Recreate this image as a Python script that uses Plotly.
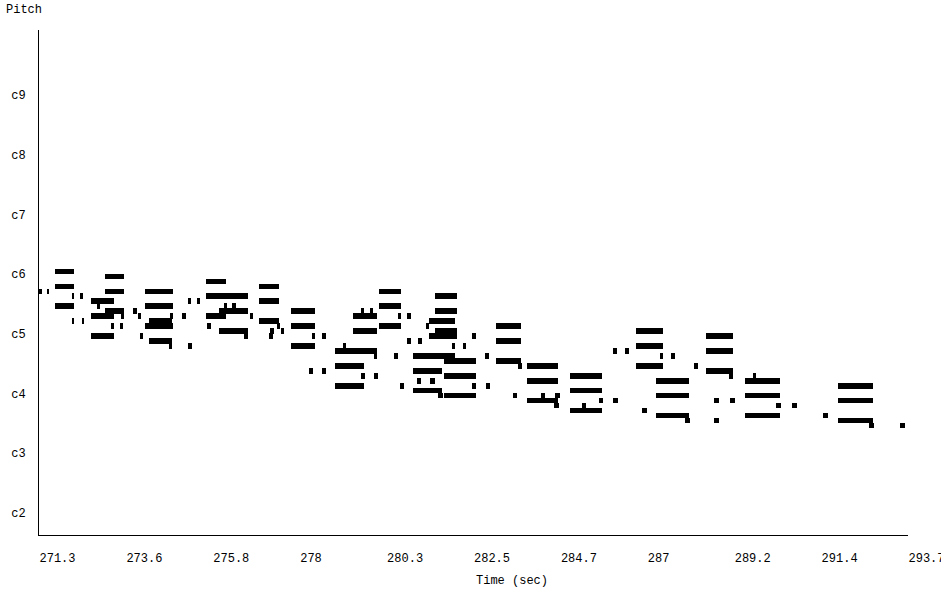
import plotly.graph_objects as go

# Note data (time in seconds, MIDI-style pitch, c4 = 60)
note_start = [
    271.71, 271.71, 271.71, 271.31, 271.50, 272.15, 272.36, 272.15, 272.40,
    273.00, 273.00, 272.64, 272.79, 273.00, 272.64, 273.41, 273.16, 273.39, 272.64, 273.73, 273.85, 273.90,
    274.03, 274.03, 274.14, 274.03, 274.14, 274.65, 275.14, 274.68, 274.99, 275.14, 275.37,
    275.60, 275.60, 276.07, 276.27, 275.94, 275.60, 276.74, 275.63, 275.94, 276.58,
    276.97, 276.97, 276.97, 277.25, 277.43, 277.54, 277.23,
    277.80, 277.80, 277.80, 278.34, 278.59, 278.26, 278.59,
    279.13, 278.93, 279.93, 278.93, 279.59, 279.93, 278.93,
    279.39, 279.59, 279.83, 279.39,
    280.06, 280.06, 280.06, 280.55, 280.79, 281.28,
    281.51, 281.51, 281.35, 281.51, 281.35, 282.46, 280.79, 281.07, 281.95, 282.22,
    280.45, 280.94, 281.74, 282.80, 280.94, 281.74, 281.04, 281.38, 280.61, 282.46, 282.82, 280.94, 281.59, 281.74,
    283.08, 283.08, 283.08, 283.65, 283.52,
    283.88, 283.88, 283.88, 284.24, 284.60, 284.57,
    284.99, 284.99, 284.99, 285.30, 285.74, 286.10, 286.10, 286.41, 286.84,
    286.69, 286.69, 286.69, 287.31, 287.59, 288.18,
    287.20, 287.20, 287.20, 287.95,
    288.49, 288.49, 288.49, 289.09, 288.70, 289.11, 288.70,
    289.70, 289.50, 289.50, 289.50, 290.30, 290.71, 291.51,
    291.90, 291.90, 291.90, 292.69, 293.49,
]
note_end = [
    272.19, 272.19, 272.19, 271.37, 271.57, 272.21, 272.43, 272.21, 272.47,
    273.49, 273.49, 273.23, 272.87, 273.49, 273.23, 273.49, 273.23, 273.47, 273.23, 273.82, 273.93, 273.97,
    274.75, 274.75, 274.72, 274.75, 274.72, 274.72, 275.24, 274.75, 275.08, 275.22, 275.45,
    276.12, 276.68, 276.14, 276.37, 276.68, 276.12, 276.81, 275.73, 276.68, 276.68,
    277.48, 277.48, 277.48, 277.35, 277.50, 277.61, 277.32,
    278.41, 278.41, 278.41, 278.41, 278.69, 278.35, 278.69,
    279.21, 280.01, 280.01, 279.68, 279.70, 280.03, 279.68,
    280.01, 279.68, 279.92, 280.01,
    280.63, 280.63, 280.63, 280.63, 280.88, 281.35,
    282.07, 282.07, 282.02, 282.07, 282.07, 282.56, 280.88, 281.17, 282.02, 282.31,
    280.55, 282.02, 282.56, 282.90, 281.69, 282.56, 281.14, 281.50, 280.71, 282.56, 282.93, 281.69, 281.71, 282.56,
    283.72, 283.72, 283.72, 283.74, 283.62,
    284.68, 284.68, 284.68, 284.34, 284.73, 284.70,
    285.81, 285.81, 285.81, 285.40, 285.84, 286.22, 286.20, 286.51, 286.97,
    287.38, 287.38, 287.38, 287.38, 287.69, 288.29,
    288.05, 288.05, 288.05, 288.08,
    289.19, 289.19, 289.19, 289.19, 288.83, 289.24, 288.83,
    289.78, 290.40, 290.40, 290.40, 290.43, 290.84, 291.64,
    292.80, 292.80, 292.80, 292.82, 293.62,
]
note_pitch = [
    84, 81, 77, 80, 80, 79, 79, 74, 74,
    83, 80, 78, 77, 76, 75, 75, 73, 73, 71, 76, 75, 71,
    80, 77, 74, 73, 70, 69, 69, 75, 75, 78, 78,
    82, 79, 77, 77, 76, 75, 75, 73, 72, 71,
    81, 78, 74, 72, 73, 72, 71,
    76, 73, 69, 71, 71, 64, 64,
    69, 68, 67, 65, 63, 63, 61,
    75, 76, 76, 72,
    80, 77, 73, 75, 75, 73,
    79, 76, 74, 72, 71, 71, 70, 70, 69, 69,
    67, 67, 66, 67, 64, 63, 62, 62, 61, 61, 61, 60, 59, 59,
    73, 70, 66, 65, 59,
    65, 62, 58, 59, 59, 57,
    63, 60, 56, 57, 58, 58, 68, 68, 56,
    72, 69, 65, 67, 67, 65,
    62, 59, 55, 54,
    71, 68, 64, 63, 58, 58, 54,
    63, 62, 59, 55, 57, 57, 55,
    61, 58, 54, 53, 53,
]

x_tick_vals = [271.3, 273.54, 275.78, 278.02, 280.26, 282.5,
               284.74, 286.98, 289.22, 291.46, 293.7]
x_tick_text = ["271.3", "273.6", "275.8", "278", "280.3", "282.5",
               "284.7", "287", "289.2", "291.4", "293.7"]
y_tick_vals = [36, 48, 60, 72, 84, 96, 108, 120]
y_tick_text = ["c2", "c3", "c4", "c5", "c6", "c7", "c8", "c9"]

durations = [e - s for s, e in zip(note_start, note_end)]

FONT = "Liberation Mono"

fig = go.Figure(go.Bar(
    orientation="h",
    base=note_start,
    x=durations,
    y=note_pitch,
    width=1.1,
    offset=0,
    marker=dict(color="black", line=dict(width=0)),
    hoverinfo="skip",
))

fig.update_layout(
    width=941, height=598,
    margin=dict(l=39, r=33, t=30, b=63),
    paper_bgcolor="white", plot_bgcolor="white",
    showlegend=False,
    bargap=0,
    font=dict(family=FONT, size=12, color="black"),
    xaxis=dict(
        range=[271.3, 293.7001],
        tickvals=x_tick_vals, ticktext=x_tick_text,
        ticklabelposition="outside right",
        ticklabeloverflow="allow",
        automargin=False,
        ticks="", showgrid=False, zeroline=False,
        showline=True, linecolor="black", linewidth=1,
        ticklabelstandoff=12,
        tickfont=dict(family=FONT, size=12),
    ),
    yaxis=dict(
        range=[31.56, 133.05],
        tickvals=y_tick_vals, ticktext=y_tick_text,
        automargin=False,
        ticks="", showgrid=False, zeroline=False,
        showline=True, linecolor="black", linewidth=1,
        ticklabelstandoff=10,
        tickfont=dict(family=FONT, size=12),
    ),
    annotations=[
        dict(text="Pitch", xref="paper", yref="paper", x=-35 / 869, y=1 + 20 / 505,
             xanchor="left", yanchor="middle", showarrow=False,
             font=dict(family=FONT, size=12)),
        dict(text="Time (sec)", xref="paper", yref="paper", x=0.5, y=-46 / 505,
             xanchor="left", yanchor="middle", showarrow=False,
             font=dict(family=FONT, size=12)),
    ],
)

fig.write_html(
    "out.html",
    config={"displayModeBar": False},
    post_script="document.body.style.margin='0';document.body.style.overflow='hidden';",
)
